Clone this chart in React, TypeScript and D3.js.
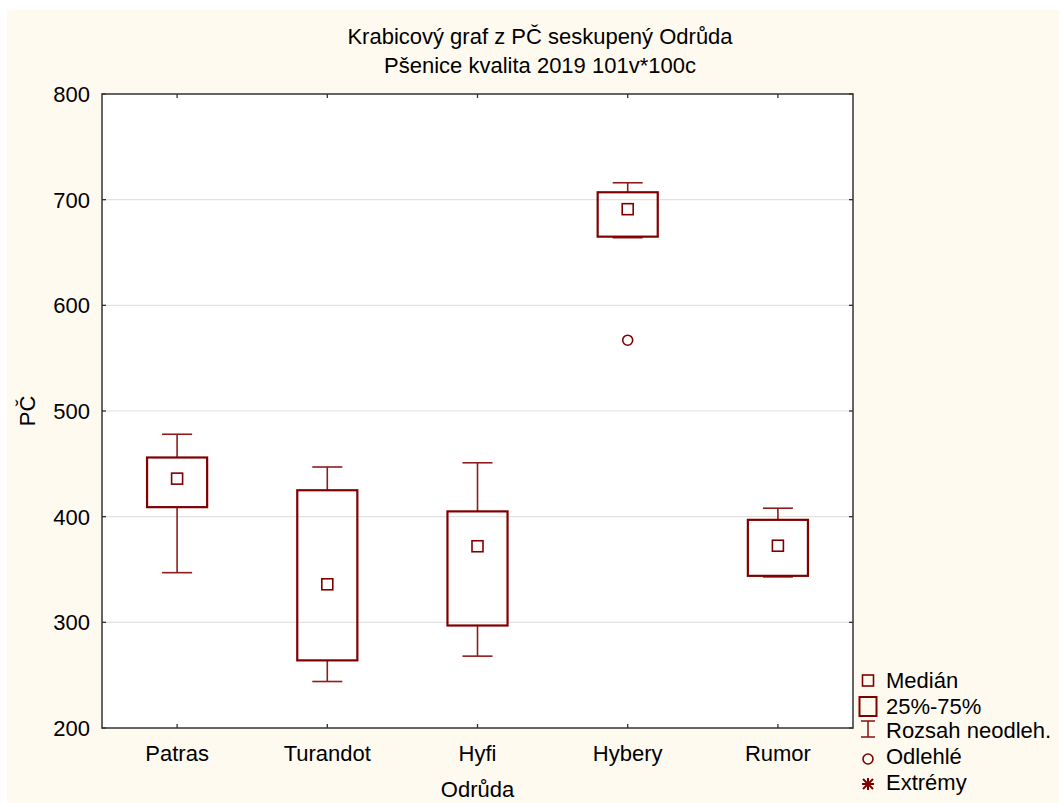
import React from "react";
import * as d3 from "d3";

const categories = ["Patras", "Turandot", "Hyfi", "Hybery", "Rumor"];
const q1 = [409, 264, 297, 665, 344];
const medians = [436, 336, 372, 691, 372.5];
const q3 = [456, 425, 405, 707, 397];
const whiskerLow = [347, 244, 268, 664, 343];
const whiskerHigh = [478, 447, 451, 716, 408];
const outliers: { cat: string; value: number }[] = [{ cat: "Hybery", value: 567 }];
const yTicks = [200, 300, 400, 500, 600, 700, 800];
const legendItems = ["Medián", "25%-75%", "Rozsah neodleh.", "Odlehlé", "Extrémy"];

const W = 1059;
const H = 803;
const left = 102;
const right = 853;
const top = 94;
const bottom = 728;
const RED = "#800000";
const WHISK = "#8f1c1c";
const FONT = "'Liberation Sans', Arial, sans-serif";

export default function App() {
  const x = d3.scaleBand<string>().domain(categories).range([left, right]).padding(0);
  const y = d3.scaleLinear().domain([200, 800]).range([bottom, top]);
  const bw = x.bandwidth();
  const boxW = bw * 0.4;
  const capW = bw * 0.2;
  const medS = 11;

  const lx = 868;
  const rowY = [688, 714, 738, 764, 790];

  return (
    <svg
      width={W}
      height={H}
      style={{ position: "absolute", left: 0, top: 0, background: "#ffffff" }}
      fontFamily={FONT}
    >
      <rect x={7} y={10} width={W - 7} height={H - 10} fill="#FFFAF0" />
      <rect x={left} y={top} width={right - left} height={bottom - top} fill="#ffffff" />

      {/* gridlines */}
      {yTicks
        .filter((t) => t > 200 && t < 800)
        .map((t) => (
          <line key={"g" + t} x1={left} x2={right} y1={y(t)} y2={y(t)} stroke="#e2e2e2" strokeWidth={1.2} />
        ))}

      {/* frame */}
      <rect x={left} y={top} width={right - left} height={bottom - top} fill="none" stroke="#333" strokeWidth={1.5} />

      {/* y ticks */}
      {yTicks.map((t) => (
        <g key={"yt" + t}>
          <line x1={left} x2={left + 4} y1={y(t)} y2={y(t)} stroke="#333" strokeWidth={1.3} />
          <line x1={right - 4} x2={right} y1={y(t)} y2={y(t)} stroke="#333" strokeWidth={1.3} />
          <text x={90} y={y(t) + 8} textAnchor="end" fontSize={22} fill="#000">
            {t}
          </text>
        </g>
      ))}

      {/* x ticks */}
      {categories.map((c) => {
        const cx = (x(c) as number) + bw / 2;
        return (
          <g key={"xt" + c}>
            <line x1={cx} x2={cx} y1={bottom} y2={bottom - 4} stroke="#333" strokeWidth={1.3} />
            <line x1={cx} x2={cx} y1={top} y2={top + 4} stroke="#333" strokeWidth={1.3} />
            <text x={cx} y={761} textAnchor="middle" fontSize={22} fill="#000">
              {c}
            </text>
          </g>
        );
      })}

      {/* boxes */}
      {categories.map((c, i) => {
        const cx = (x(c) as number) + bw / 2;
        return (
          <g key={"b" + c}>
            <line x1={cx} x2={cx} y1={y(whiskerHigh[i])} y2={y(q3[i])} stroke={WHISK} strokeWidth={1.6} />
            <line x1={cx} x2={cx} y1={y(q1[i])} y2={y(whiskerLow[i])} stroke={WHISK} strokeWidth={1.6} />
            <line x1={cx - capW / 2} x2={cx + capW / 2} y1={y(whiskerHigh[i])} y2={y(whiskerHigh[i])} stroke={WHISK} strokeWidth={1.6} />
            <line x1={cx - capW / 2} x2={cx + capW / 2} y1={y(whiskerLow[i])} y2={y(whiskerLow[i])} stroke={WHISK} strokeWidth={1.6} />
            <rect
              x={cx - boxW / 2}
              y={y(q3[i])}
              width={boxW}
              height={y(q1[i]) - y(q3[i])}
              fill="none"
              stroke={RED}
              strokeWidth={2.2}
            />
            <rect
              x={cx - medS / 2}
              y={y(medians[i]) - medS / 2}
              width={medS}
              height={medS}
              fill="#fff"
              stroke={RED}
              strokeWidth={1.6}
            />
          </g>
        );
      })}

      {/* outliers */}
      {outliers.map((o) => (
        <circle
          key={"o" + o.cat}
          cx={(x(o.cat) as number) + bw / 2}
          cy={y(o.value)}
          r={5}
          fill="none"
          stroke={RED}
          strokeWidth={1.6}
        />
      ))}

      {/* titles */}
      <text x={540} y={44} textAnchor="middle" fontSize={22} fill="#000">
        Krabicový graf z PČ seskupený Odrůda
      </text>
      <text x={540} y={73} textAnchor="middle" fontSize={22} fill="#000">
        Pšenice kvalita 2019 101v*100c
      </text>
      <text x={(left + right) / 2} y={797} textAnchor="middle" fontSize={22} fill="#000">
        Odrůda
      </text>
      <text transform={`translate(35, ${(top + bottom) / 2}) rotate(-90)`} textAnchor="middle" fontSize={22} fill="#000">
        PČ
      </text>

      {/* legend */}
      <g>
        <rect x={lx - 5.5} y={675} width={11} height={11} fill="none" stroke={RED} strokeWidth={1.6} />
        <rect x={lx - 8.5} y={697} width={17} height={19} fill="none" stroke={RED} strokeWidth={2} />
        <line x1={lx - 7} x2={lx + 7} y1={721} y2={721} stroke={WHISK} strokeWidth={1.6} />
        <line x1={lx} x2={lx} y1={721} y2={737} stroke={WHISK} strokeWidth={1.6} />
        <line x1={lx - 7} x2={lx + 7} y1={737} y2={737} stroke={WHISK} strokeWidth={1.6} />
        <circle cx={lx} cy={759} r={5} fill="none" stroke={RED} strokeWidth={1.6} />
        <g stroke={RED} strokeWidth={2}>
          <line x1={lx - 6} x2={lx + 6} y1={784} y2={784} />
          <line x1={lx} x2={lx} y1={778} y2={790} />
          <line x1={lx - 5} x2={lx + 5} y1={779} y2={789} />
          <line x1={lx - 5} x2={lx + 5} y1={789} y2={779} />
        </g>
        {legendItems.map((t, i) => (
          <text key={t} x={886} y={rowY[i]} fontSize={22} fill="#000">
            {t}
          </text>
        ))}
      </g>
    </svg>
  );
}
